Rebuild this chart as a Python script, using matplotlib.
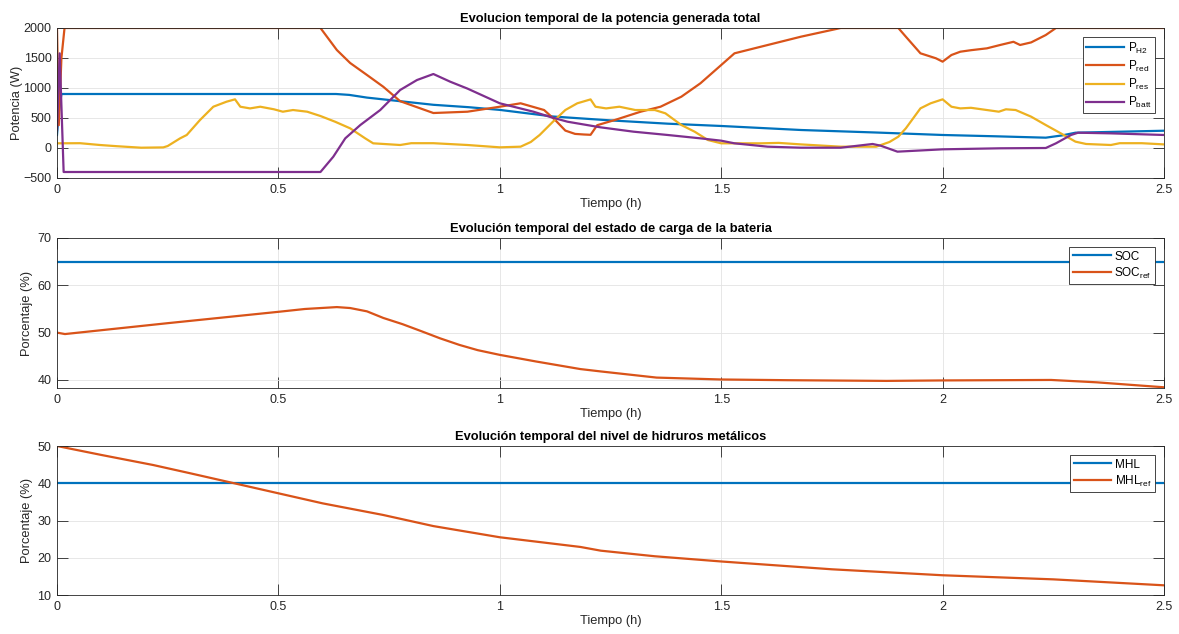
import matplotlib
matplotlib.use("Agg")
import matplotlib.pyplot as plt
from matplotlib.ticker import FuncFormatter

plt.rcParams['font.family'] = ['Liberation Sans', 'DejaVu Sans']
plt.rcParams['mathtext.default'] = 'regular'

# Colores por defecto de MATLAB
C_AZUL = '#0072BD'
C_NARANJA = '#D95319'
C_AMARILLO = '#EDB120'
C_MORADO = '#7E2F8E'

# Potencias (W) frente al tiempo (h)
t_h2 = [0, 0.004, 0.010, 0.63, 0.66, 0.70, 0.775, 0.85, 0.93, 1.0, 1.12, 1.25, 1.38, 1.5,
        1.68, 1.85, 2.0, 2.12, 2.233, 2.27, 2.30, 2.5]
p_h2 = [217, 600, 900, 900, 885, 840, 780, 720, 680, 635, 525, 460, 405, 367,
        300, 258, 217, 195, 172, 210, 255, 288]

t_red = [0, 0.004, 0.010, 0.017, 0.595, 0.632, 0.662, 0.70, 0.737, 0.775, 0.85, 0.927, 1.0,
         1.047, 1.10, 1.125, 1.148, 1.17, 1.19, 1.205, 1.22, 1.26, 1.318, 1.363, 1.41, 1.453,
         1.5, 1.53, 1.59, 1.68, 1.77, 1.90, 1.917, 1.95, 1.985, 2.0, 2.02, 2.04, 2.064, 2.10,
         2.13, 2.16, 2.175, 2.2, 2.233, 2.256, 2.5]
p_red = [2000, 380, 1500, 2000, 2000, 1633, 1417, 1217, 1020, 780, 583, 605, 688,
         745, 633, 467, 290, 235, 225, 220, 380, 467, 605, 688, 855, 1078,
         1383, 1578, 1689, 1855, 2000, 2000, 1855, 1578, 1495, 1439, 1550, 1605, 1630, 1661,
         1717, 1770, 1717, 1760, 1883, 2000, 2000]

t_res = [0, 0.052, 0.097, 0.135, 0.19, 0.24, 0.25, 0.278, 0.293, 0.323, 0.353, 0.383, 0.402,
         0.414, 0.436, 0.459, 0.49, 0.51, 0.533, 0.565, 0.595, 0.628, 0.662, 0.696, 0.714,
         0.775, 0.80, 0.85, 0.927, 1.0, 1.047, 1.07, 1.09, 1.12, 1.148, 1.175, 1.205, 1.216,
         1.24, 1.27, 1.306, 1.35, 1.374, 1.41, 1.44, 1.47, 1.5, 1.59, 1.63, 1.68, 1.77, 1.85,
         1.88, 1.90, 1.917, 1.95, 1.973, 2.0, 2.02, 2.04, 2.064, 2.10, 2.127, 2.143, 2.165,
         2.2, 2.233, 2.267, 2.30, 2.324, 2.38, 2.40, 2.45, 2.5]
p_res = [78, 80, 50, 30, 5, 10, 33, 161, 217, 467, 688, 772, 811,
         688, 660, 688, 645, 605, 633, 605, 533, 438, 328, 161, 78,
         50, 80, 80, 50, 11, 22, 100, 217, 438, 633, 745, 810, 688,
         660, 688, 633, 633, 578, 383, 272, 133, 78, 78, 85, 60, 22, 22,
         100, 189, 328, 661, 745, 811, 688, 660, 670, 633, 605, 645, 633,
         522, 383, 244, 106, 67, 50, 80, 80, 60]

t_batt = [0, 0.006, 0.015, 0.595, 0.624, 0.651, 0.685, 0.73, 0.775, 0.813, 0.85, 0.888,
          0.927, 1.0, 1.076, 1.114, 1.153, 1.227, 1.302, 1.379, 1.453, 1.5, 1.53, 1.605,
          1.68, 1.77, 1.842, 1.86, 1.898, 2.0, 2.13, 2.233, 2.256, 2.29, 2.306, 2.38, 2.5]
p_batt = [300, 1578, -400, -400, -145, 161, 383, 633, 967, 1133, 1233, 1105,
          990, 745, 605, 517, 438, 345, 272, 217, 161, 122, 78, 22,
          5, 5, 67, 39, -61, -22, -5, 0, 78, 217, 255, 244, 217]

# Estado de carga de la bateria (%)
t_soc = [0, 2.5]
soc = [65, 65]
t_soc_ref = [0, 0.018, 0.25, 0.5, 0.56, 0.632, 0.662, 0.70, 0.737, 0.78, 0.823, 0.865,
             0.909, 0.95, 1.0, 1.082, 1.182, 1.228, 1.354, 1.5, 1.65, 1.873, 2.0, 2.245,
             2.348, 2.5]
soc_ref = [50.0, 49.7, 52.0, 54.4, 55.0, 55.4, 55.2, 54.5, 53.1, 51.8, 50.3, 48.8,
           47.4, 46.3, 45.3, 43.9, 42.3, 41.8, 40.5, 40.1, 39.95, 39.8, 39.9, 40.0,
           39.5, 38.45]

# Nivel de hidruros metalicos (%)
t_mhl = [0, 2.5]
mhl = [40, 40]
t_mhl_ref = [0, 0.1, 0.217, 0.3, 0.4, 0.5, 0.6, 0.736, 0.85, 1.0, 1.182, 1.228, 1.35,
             1.5, 1.75, 2.0, 2.25, 2.5]
mhl_ref = [50.0, 47.6, 44.9, 42.7, 40.0, 37.3, 34.6, 31.5, 28.5, 25.5, 22.9, 21.9, 20.4,
           19.0, 16.9, 15.3, 14.2, 12.6]

xticks = [0, 0.5, 1, 1.5, 2, 2.5]


def estilo_matlab(ax, yticks, ylim):
    ax.set_xlim(0, 2.5)
    ax.set_ylim(*ylim)
    ax.set_xticks(xticks)
    ax.set_yticks(yticks)
    ax.xaxis.set_major_formatter(FuncFormatter(lambda v, p: '%g' % v))
    ax.grid(True, color='#e3e3e3', linewidth=0.6)
    ax.set_axisbelow(True)
    ax.tick_params(direction='in', length=8, width=0.6, top=True, right=True,
                   labelsize=9, colors='#262626', pad=4)
    for s in ax.spines.values():
        s.set_color('#262626')
        s.set_linewidth(0.6)
    ax.set_xlabel('Tiempo (h)', fontsize=9.3, color='#262626', labelpad=2)


fig = plt.figure(figsize=(11.79, 6.34), dpi=100)
left, width = 57 / 1179, 1107 / 1179
ax1 = fig.add_axes([left, 1 - 178 / 634, width, 150 / 634])
ax2 = fig.add_axes([left, 1 - 388 / 634, width, 150 / 634])
ax3 = fig.add_axes([left, 1 - 595 / 634, width, 149 / 634])

lw = 1.6

ax1.plot(t_h2, p_h2, color=C_AZUL, lw=lw, label='P$_{H2}$')
ax1.plot(t_red, p_red, color=C_NARANJA, lw=lw, label='P$_{red}$')
ax1.plot(t_res, p_res, color=C_AMARILLO, lw=lw, label='P$_{res}$')
ax1.plot(t_batt, p_batt, color=C_MORADO, lw=lw, label='P$_{batt}$')
estilo_matlab(ax1, [-500, 0, 500, 1000, 1500, 2000], (-500, 2000))
ax1.set_ylabel('Potencia (W)', fontsize=9.3, color='#262626', labelpad=0)
ax1.set_title('Evolucion temporal de la potencia generada total', fontsize=9.3,
              fontweight='bold', pad=4)

ax2.plot(t_soc, soc, color=C_AZUL, lw=lw, label='SOC')
ax2.plot(t_soc_ref, soc_ref, color=C_NARANJA, lw=lw, label='SOC$_{ref}$')
estilo_matlab(ax2, [40, 50, 60, 70], (38.3, 70))
ax2.set_ylabel('Porcentaje (%)', fontsize=9.3, color='#262626', labelpad=3)
ax2.set_title('Evolución temporal del estado de carga de la bateria', fontsize=9.3,
              fontweight='bold', pad=4)

ax3.plot(t_mhl, mhl, color=C_AZUL, lw=lw, label='MHL')
ax3.plot(t_mhl_ref, mhl_ref, color=C_NARANJA, lw=lw, label='MHL$_{ref}$')
estilo_matlab(ax3, [10, 20, 30, 40, 50], (10, 50))
ax3.set_ylabel('Porcentaje (%)', fontsize=9.3, color='#262626', labelpad=3)
ax3.set_title('Evolución temporal del nivel de hidruros metálicos', fontsize=9.3,
              fontweight='bold', pad=4)

for ax, dy in ((ax1, 9 / 150), (ax2, 9 / 150), (ax3, 9 / 149)):
    leg = ax.legend(loc='upper right', bbox_to_anchor=(1 - 9 / 1107, 1 - dy),
                    borderaxespad=0, fancybox=False, framealpha=1, fontsize=8.5,
                    handlelength=3.2, handletextpad=0.3, borderpad=0.3,
                    labelspacing=0.25)
    leg.get_frame().set_edgecolor('#262626')
    leg.get_frame().set_linewidth(0.6)

fig.savefig('out.png', dpi=100)
